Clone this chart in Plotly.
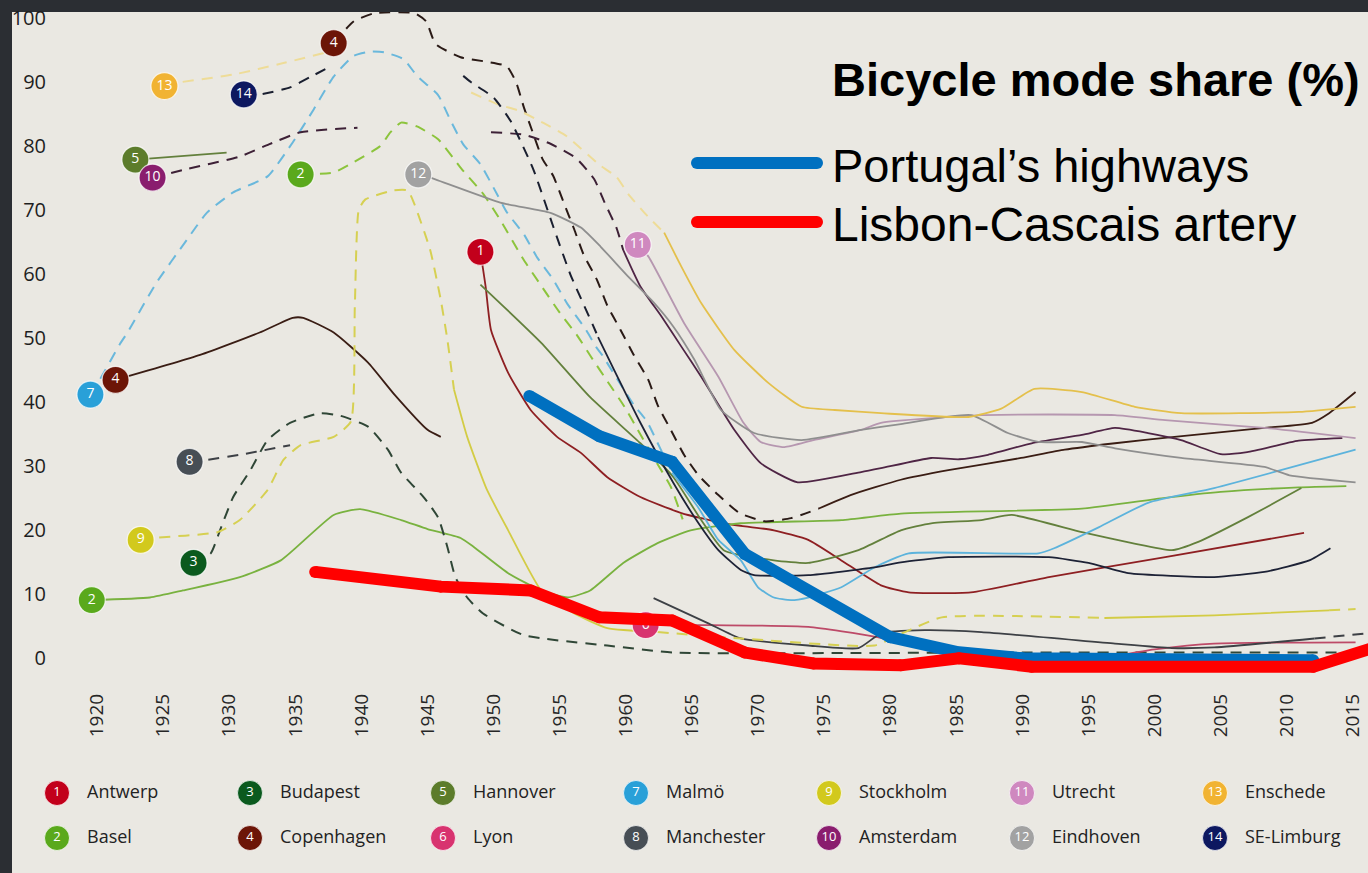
import plotly.graph_objects as go

# ---------------- data ----------------
city_names = ["Antwerp", "Basel", "Budapest", "Copenhagen", "Hannover", "Lyon", "Malmö",
              "Manchester", "Stockholm", "Amsterdam", "Utrecht", "Eindhoven", "Enschede", "SE-Limburg"]
city_numbers = list(range(1, 15))
marker_colors = ["#c2001b", "#5aa91c", "#0b5a1e", "#6c1507", "#5c7c2b", "#d8336f", "#29a0d8",
                 "#474e55", "#d2c91d", "#8a1d6e", "#cf88bf", "#a2a2a2", "#f1b332", "#0d1860"]
line_colors = ["#8e1f22", "#79b23f", "#2f4636", "#3a1d14", "#63803c", "#bd4a68", "#5cb3dc",
               "#3d4045", "#d3cc45", "#4f2545", "#b697b0", "#8f8f8f", "#e4c04c", "#1d2236"]
dash_colors = ["#8e1f22", "#8cc43c", "#2f4636", "#2a1a16", "#63803c", "#bd4a68", "#6ab8dc",
               "#3d4045", "#d6d052", "#3d2036", "#b697b0", "#8f8f8f", "#eedc98", "#1a1f30"]

antwerp_solid_x = [1949, 1949.4, 1949.8, 1951.1, 1952.8, 1954.8, 1956.6, 1958.6, 1961.1, 1964.2, 1967.4,
                   1971.2, 1973.8, 1976.3, 1979.3, 1981.4, 1986.1, 1992, 2000.8, 2011.3]
antwerp_solid_y = [63.5, 58, 51.3, 44.6, 38.8, 34.6, 32.1, 28.3, 25.2, 22.7, 21.1,
                   20, 18.5, 15.3, 11.4, 10.3, 10.3, 12.7, 15.8, 19.6]

basel_solid_x = [1919.6, 1924, 1926.5, 1930.8, 1933.9, 1937.9, 1939.9, 1943, 1945, 1947.5, 1948.5, 1951.1,
                 1953.6, 1955.6, 1957.3, 1959.8, 1962.4, 1964.9, 1968.7, 1976.3, 1980.8, 1994.5, 2000.5,
                 2005, 2010.9, 2014.5]
basel_solid_y = [9.1, 9.5, 10.6, 12.7, 15.3, 22.4, 23.3, 21.6, 20.2, 18.8, 17.4, 13.3,
                 10.6, 9.5, 10.6, 14.9, 18, 20, 21.1, 21.6, 22.6, 23.4, 25,
                 26, 26.7, 26.9]
basel_dash_x = [1935.4, 1937.9, 1939.4, 1941.4, 1942.2, 1943, 1944.2, 1945.8, 1947.6, 1949.2, 1950.5,
                1952.2, 1953.6, 1955, 1956.3, 1957.4, 1958.6, 1959.9, 1960.9, 1962.3, 1963.4, 1964.3]
basel_dash_y = [75.6, 75.9, 77.5, 80, 82.2, 83.7, 83.1, 81.1, 76.4, 72.6, 68.5,
                62.5, 58.2, 54, 50.5, 47, 43.3, 39.3, 35.7, 30.7, 26.8, 21.7]

budapest_dash_x = [1927.3, 1928.6, 1929.3, 1930.3, 1931.6, 1932.9, 1934.6, 1936.9, 1938.4, 1940.5, 1942,
                   1943, 1944.7, 1945.8, 1946.5, 1947.1, 1948, 1949.2, 1952.3, 1958.6, 1963.6, 1970,
                   1990, 2014.5]
budapest_dash_y = [14.9, 16.4, 20, 25.2, 29.4, 34.1, 36.8, 38.3, 37.9, 36.2, 32.6,
                   29, 25.2, 22, 17.4, 12.7, 9.5, 7, 3.6, 2, 0.9, 0.8,
                   0.9, 0.9]

copenhagen_solid_x = [1921.4, 1927.8, 1932.3, 1934.8, 1935.6, 1937.9, 1940.5, 1942.5, 1945, 1946, None,
                      1974.6, 1977, 1980.8, 1984.4, 1989.9, 1993.2, 1997, 2001.5, 2008.3, 2011.9, 2013.2, 2015.2]
copenhagen_solid_y = [43.5, 47.4, 50.9, 53.2, 53.2, 50.9, 46.2, 41.2, 35.7, 34.6, None,
                      23.4, 25.5, 27.9, 29.4, 31.3, 32.6, 33.6, 34.6, 36, 36.8, 38.3, 41.6]
copenhagen_dash_x = [1937.9, 1939.4, 1941, 1944, 1944.9, 1945.6, 1947.5, 1949.5, 1951, 1951.7, 1952.3,
                     1952.9, 1953.7, 1954.5, 1955.3, 1956.1, 1956.8, 1957.8, 1958.6, 1959.6, 1960.6,
                     1961.7, 1962.4, 1963.4, 1964.4, 1965.5, 1967, 1968.6, 1970.5, 1972.5, 1974.6]
copenhagen_dash_y = [96.1, 99.5, 100.8, 100.8, 99.5, 96, 93.9, 93.2, 92.5, 90, 86,
                     82.5, 78, 75.4, 71.2, 67, 63.1, 59.2, 55.1, 51.3, 47.4,
                     43.5, 39.6, 35.7, 31.8, 28.6, 25.5, 22.7, 21.4, 21.9, 23.4]

hannover_solid_x = [1922.9, 1929.8, None, 1949, 1953.6, 1957.3, 1961.1, 1963.6, 1965.7, 1967.4, 1971.2,
                    1973.8, 1977.6, 1980.8, 1983.1, 1986.9, 1989.2, 1994.5, 1998.3, 2001.3, 2003.3,
                    2007.1, 2011.1]
hannover_solid_y = [77.9, 79, None, 58.4, 49.3, 40.8, 33.6, 28.3, 21.6, 16.9, 15.3,
                    14.9, 16.9, 20, 21.1, 21.6, 22.4, 19.7, 18, 16.9, 18.2,
                    22.1, 26.6]

lyon_solid_x = [1961.5, 1966.2, 1973.8, 1978.8, 1983, 1990, 1996, 2000, 2004.5, 2015.2]
lyon_solid_y = [5.2, 5.2, 4.9, 3.4, 1.5, 0.4, 0.1, 1.4, 2.3, 2.5]

malmo_dash_x = [1919.5, 1920.2, 1921.7, 1922.3, 1924.5, 1926.8, 1928.3, 1930.3, 1932.9, 1934.8, 1936.4,
                1937.9, 1939.4, 1940.7, 1941.7, 1943.2, 1944.2, 1945.8, 1946.7, 1947.7, 1949, 1950,
                1951, 1952.3, 1953.3, 1954.5, 1955.6, 1956.9, 1957.8, 1958.2, 1960.6, 1961.6,
                1962.6, 1963.5]
malmo_dash_y = [41.2, 43.5, 49, 50.9, 58.7, 65.4, 69.6, 72.8, 75.3, 80.6, 85.8,
                90.9, 94.1, 94.8, 94.7, 93.6, 91, 88, 84.2, 80.3, 77.2, 73.5,
                69.7, 66.2, 62.6, 59.2, 55.3, 51.6, 48.5, 47.4, 39.6, 37,
                32.8, 29]
malmo_solid_x = [1963.5, 1965.5, 1967, 1968.7, 1970, 1971.2, 1972.5, 1973.8, 1976.3, 1978.8, 1981.4,
                 1991.2, 1992.4, 1995.8, 1999.5, 2004.5, 2015.2]
malmo_solid_y = [29, 23.5, 18.5, 15.3, 11.1, 9.5, 9.1, 9.5, 11.1, 14.2, 16.4,
                 16.4, 17.2, 20.5, 24.3, 26.6, 32.6]

manchester_dash_x = [1927, 1928.3, 1930.8, 1934.6, None, 2012.1, 2016]
manchester_dash_y = [30.7, 31, 31.8, 33.3, None, 3.1, 3.9]
manchester_solid_x = [1962.1, 1966.2, 1968.7, 1973.8, 1977.6, 1979.3, 1982.6, 1986.9, 1997, 2001.3,
                      2004.5, 2012.1]
manchester_solid_y = [9.4, 5.5, 3.1, 2, 1.6, 3.9, 4.4, 4.1, 2.3, 1.6, 1.7, 3.1]

stockholm_dash_x = [1923.3, 1924.2, 1929.1, 1930.8, 1932.9, 1934.1, 1935.4, 1937.9, 1939.2, 1939.5,
                    1939.8, 1940.3, 1942.4, 1943.5, 1944, 1945.2, 1946, 1946.5, 1947, None,
                    1962.4, 1968.7, 1978.8, 1981, 1983.9, 1996.2, None, 2013.2, 2015.2]
stockholm_dash_y = [18.5, 18.8, 19.7, 21.6, 26.3, 31, 33.3, 34.6, 37, 55,
                    70.1, 71.7, 73.1, 73.1, 71, 63.8, 56, 49.8, 42, None,
                    4.1, 3.1, 2, 4, 6.4, 6.3, None, 7.5, 7.7]
stockholm_solid_x = [1947, 1948, 1949.5, 1951.1, 1953.6, 1956.1, 1958.6, 1962.4, None, 1996.2, 2004.5, 2013.2]
stockholm_solid_y = [42, 34.6, 26.3, 20, 10.6, 7, 4.7, 4.1, None, 6.3, 6.7, 7.5]

amsterdam_dash_x = [1924.2, 1926.5, 1930.8, 1933, 1935.4, 1939.7, None, 1949.8, 1952.3, 1954.3, 1956.2,
                    1957.6, 1958.4, 1959.3, 1959.8]
amsterdam_dash_y = [75.1, 76.3, 78.4, 80.3, 82.2, 82.9, None, 82.2, 81.8, 80.4, 78.2,
                    74.9, 71.2, 67.2, 63.8]
amsterdam_solid_x = [1959.8, 1961.1, 1962.7, 1964.2, 1965.7, 1968.2, 1970.2, 1973, 1977.8, 1979.3, 1983.1,
                     1985.2, 1987.4, 1990.7, 1994.5, 1997, 1999.5, 2002, 2005, 2007, 2010.9, 2014.2]
amsterdam_solid_y = [63.8, 58.1, 53.4, 48.7, 44, 35.7, 30.5, 27.5, 29.1, 29.7, 31.3,
                     31.1, 31.8, 33.6, 34.9, 36, 35.2, 34.1, 31.9, 32.2, 34, 34.4]

utrecht_solid_x = [1960.9, 1961.7, 1964.4, 1967, 1968.9, 1970.2, 1972, 1974.2, 1977.8, 1979.3, 1986.9,
                   1997, 2000.8, 2008.3, 2015.2]
utrecht_solid_y = [64.6, 62.8, 52.4, 44, 36.8, 33.8, 33, 34.1, 35.7, 36.8, 38,
                   38, 37.2, 36, 34.4]

eindhoven_solid_x = [1944.3, 1945.2, 1950.5, 1954.3, 1956.6, 1958.1, 1960.2, 1962.1, 1963.6, 1965.2, 1967.2,
                     1969.7, 1973.3, 1977.8, 1980.8, 1986.1, 1988.9, 1991.2, 1994.5, 1997, 2002, 2008.3,
                     2010.2, 2015.2]
eindhoven_solid_y = [75.6, 75.1, 71.2, 69.6, 67.3, 64.3, 59.6, 55.6, 51.8, 46.6, 38.8,
                     35.2, 34.1, 35.7, 36.6, 38, 35.2, 33.8, 33.8, 32.8, 31.3, 29.9,
                     28.6, 27.5]

enschede_dash_x = [1925.1, 1926.3, 1930.3, 1934.1, 1937.2, None, 1948.3, 1950.4, 1952, 1953.8, 1955.5,
                   1958, 1959.3, 1960.2, 1961.5, 1962.9]
enschede_dash_y = [89.4, 90, 91.2, 93, 94.6, None, 88.4, 86.5, 85.5, 83.6, 81.6,
                   77.1, 75.2, 72.5, 69.4, 66.5]
enschede_solid_x = [1962.9, 1964.2, 1965.7, 1968.2, 1970.8, 1973.3, 1975.8, 1979.3, 1985.9, 1988.4, 1990.9,
                    1994.5, 1998.5, 2002, 2010.9, 2015.2]
enschede_solid_y = [66.5, 61.2, 55.5, 48.2, 43, 39.3, 38.8, 38.3, 37.7, 39, 42.1,
                    41.6, 39.3, 38.3, 38.5, 39.3]

selimburg_dash_x = [1931.1, 1932.3, 1934.6, 1936.1, 1937.7, None, 1947.7, 1948.3, 1950, 1951.3, 1953,
                    1954.5, 1955.8, 1957.5, 1957.9]
selimburg_dash_y = [88.1, 88.1, 89.2, 90.8, 92.5, None, 91, 90, 87.6, 83.9, 76.4,
                    67.5, 60, 52.1, 50.2]
selimburg_solid_x = [1957.9, 1959.1, 1961.1, 1963.6, 1965.5, 1967, 1968.7, 1969.7, 1973.8, 1978.8, 1980.8,
                     1984.4, 1992, 1995, 1998, 2004.5, 2008.3, 2011.7, 2013.3]
selimburg_solid_y = [50.2, 45.1, 36.8, 27.4, 21.1, 16.9, 13.8, 13, 13, 14.2, 15,
                     15.8, 15.8, 14.9, 13.3, 12.7, 13.5, 15.3, 17.2]

# numbered start markers drawn on the chart
marker_ids = [1, 2, 2, 3, 4, 4, 5, 6, 7, 8, 9, 10, 11, 12, 13, 14]
marker_years = [1949, 1919.6, 1935.4, 1927.3, 1921.4, 1937.9, 1922.9, 1961.5, 1919.5, 1927, 1923.3,
                1924.2, 1960.9, 1944.3, 1925.1, 1931.1]
marker_vals = [63.5, 9.1, 75.6, 14.9, 43.5, 96.1, 77.9, 5.2, 41.2, 30.7, 18.5,
               75.1, 64.6, 75.6, 89.4, 88.1]

# Portuguese roads overlay
highway_years = [1952.7, 1958, 1963.5, 1969, 1980, 1985, 1990, 2000, 2012]
highway_share = [41, 34.7, 30.7, 16.3, 3.3, 1, 0, -0.3, -0.3]
lisbon_years = [1936.5, 1946, 1952.8, 1958, 1963.5, 1969, 1974.2, 1980.8, 1985.2, 1990.7, 2012, 2016.5]
lisbon_share = [13.5, 11.2, 10.6, 6.4, 5.9, 0.9, -0.8, -1.1, 0, -1.3, -1.3, 1.6]

year_ticks = list(range(1920, 2016, 5))
share_ticks = list(range(0, 101, 10))

# table built from the arrays above: (solid_x, solid_y, dash_x, dash_y)
series = {
    1: (antwerp_solid_x, antwerp_solid_y, None, None),
    2: (basel_solid_x, basel_solid_y, basel_dash_x, basel_dash_y),
    3: (None, None, budapest_dash_x, budapest_dash_y),
    4: (copenhagen_solid_x, copenhagen_solid_y, copenhagen_dash_x, copenhagen_dash_y),
    5: (hannover_solid_x, hannover_solid_y, None, None),
    6: (lyon_solid_x, lyon_solid_y, None, None),
    7: (malmo_solid_x, malmo_solid_y, malmo_dash_x, malmo_dash_y),
    8: (manchester_solid_x, manchester_solid_y, manchester_dash_x, manchester_dash_y),
    9: (stockholm_solid_x, stockholm_solid_y, stockholm_dash_x, stockholm_dash_y),
    10: (amsterdam_solid_x, amsterdam_solid_y, amsterdam_dash_x, amsterdam_dash_y),
    11: (utrecht_solid_x, utrecht_solid_y, None, None),
    12: (eindhoven_solid_x, eindhoven_solid_y, None, None),
    13: (enschede_solid_x, enschede_solid_y, enschede_dash_x, enschede_dash_y),
    14: (selimburg_solid_x, selimburg_solid_y, selimburg_dash_x, selimburg_dash_y),
}

# ---------------- figure ----------------
W, H = 1368, 873
ML, MT = 55, 12
PW, PH = W - ML, H - MT
PLOT_BOTTOM_PX = 682


def px_x(p):
    return (p - ML) / PW


def px_y(p):
    return (H - p) / PH


BG = "#eae8e2"
fig = go.Figure()

for n in city_numbers:
    sx, sy, dx, dy = series[n]
    if dx is not None:
        fig.add_trace(go.Scatter(x=dx, y=dy, mode="lines", connectgaps=False, hoverinfo="skip",
                                 line=dict(color=dash_colors[n - 1], width=2, dash="11px,8px",
                                           shape="spline", smoothing=0.5)))
    if sx is not None:
        fig.add_trace(go.Scatter(x=sx, y=sy, mode="lines", connectgaps=False, hoverinfo="skip",
                                 line=dict(color=line_colors[n - 1], width=1.8,
                                           shape="spline", smoothing=0.5)))

fig.add_trace(go.Scatter(
    x=marker_years, y=marker_vals, mode="markers+text",
    text=[str(i) for i in marker_ids], textposition="middle center",
    textfont=dict(family="Open Sans", size=14, color="white"),
    marker=dict(size=27, color=[marker_colors[i - 1] for i in marker_ids],
                line=dict(color="rgba(255,255,255,0.75)", width=1.2)),
    hoverinfo="skip"))

fig.add_trace(go.Scatter(x=highway_years, y=highway_share, mode="lines+markers", name="Portugal’s highways",
                         line=dict(color="#0070c0", width=12), marker=dict(size=12, color="#0070c0")))
fig.add_trace(go.Scatter(x=lisbon_years, y=lisbon_share, mode="lines+markers", name="Lisbon-Cascais artery",
                         line=dict(color="#ff0000", width=12), marker=dict(size=12, color="#ff0000")))

# bottom legend of cities
leg_x = [57 + 193 * ((n - 1) // 2) for n in city_numbers]
leg_y = [793 if (n - 1) % 2 == 0 else 838 for n in city_numbers]
fig.add_trace(go.Scatter(
    x=leg_x, y=leg_y, xaxis="x2", yaxis="y2", mode="markers+text",
    text=[str(n) for n in city_numbers], textposition="middle center",
    textfont=dict(family="Open Sans", size=13, color="white"),
    marker=dict(size=25, color=marker_colors, line=dict(color="rgba(255,255,255,0.7)", width=1)),
    cliponaxis=False, hoverinfo="skip"))
fig.add_trace(go.Scatter(
    x=[v + 30 for v in leg_x], y=leg_y, xaxis="x2", yaxis="y2", mode="text",
    text=city_names, textposition="middle right",
    textfont=dict(family="Open Sans", size=18, color="#222222"),
    cliponaxis=False, hoverinfo="skip"))

shapes = [dict(type="rect", xref="paper", yref="paper", x0=px_x(12), x1=1.01, y0=-0.02, y1=1.0,
               fillcolor=BG, line=dict(width=0), layer="below")]
for col, ypx in (("#0070c0", 163), ("#ff0000", 222)):
    shapes.append(dict(type="line", xref="paper", yref="paper", x0=px_x(697), x1=px_x(817),
                       y0=px_y(ypx), y1=px_y(ypx), line=dict(color=col, width=12)))
    for xe in (697, 817):
        shapes.append(dict(type="circle", xref="paper", yref="paper", xsizemode="pixel", ysizemode="pixel",
                           xanchor=px_x(xe), yanchor=px_y(ypx), x0=-6, x1=6, y0=-6, y1=6,
                           fillcolor=col, line=dict(width=0)))

annotations = [
    dict(text="<b>Bicycle mode share (%)</b>", xref="paper", yref="paper", x=px_x(830), y=px_y(79),
         xanchor="left", yanchor="middle", showarrow=False,
         font=dict(family="Liberation Sans, Arial", size=47, color="#000000")),
    dict(text="Portugal’s highways", xref="paper", yref="paper", x=px_x(830), y=px_y(166),
         xanchor="left", yanchor="middle", showarrow=False,
         font=dict(family="Liberation Sans, Arial", size=47, color="#000000")),
    dict(text="Lisbon-Cascais artery", xref="paper", yref="paper", x=px_x(830), y=px_y(225),
         xanchor="left", yanchor="middle", showarrow=False,
         font=dict(family="Liberation Sans, Arial", size=48, color="#000000")),
]

fig.update_layout(
    width=W, height=H, margin=dict(l=ML, r=0, t=MT, b=0, pad=0),
    paper_bgcolor="#2b2e33", plot_bgcolor=BG, showlegend=False,
    xaxis=dict(domain=[0, 1], range=[1916.82, 2016.14], tickvals=year_ticks, tickangle=-90,
               showgrid=False, zeroline=False, showline=False, ticks="", ticklabelstandoff=7,
               tickfont=dict(family="Open Sans", size=19, color="#262626"), anchor="y"),
    yaxis=dict(domain=[px_y(PLOT_BOTTOM_PX), 1], range=[-3.70, 100.98], tickvals=share_ticks,
               showgrid=False, zeroline=False, showline=False, ticks="", ticklabelstandoff=8,
               tickfont=dict(family="Open Sans", size=20, color="#1e1e1e"), anchor="x"),
    xaxis2=dict(domain=[0, 1], range=[ML, W], visible=False, anchor="y2"),
    yaxis2=dict(domain=[0, px_y(765)], range=[H, 765], visible=False, anchor="x2"),
    shapes=shapes, annotations=annotations,
)

fig.write_html("out.html", config={"displayModeBar": False},
               post_script="document.body.style.margin='0';document.body.style.overflow='hidden';"
                           "document.body.style.background='#eae8e2';")
